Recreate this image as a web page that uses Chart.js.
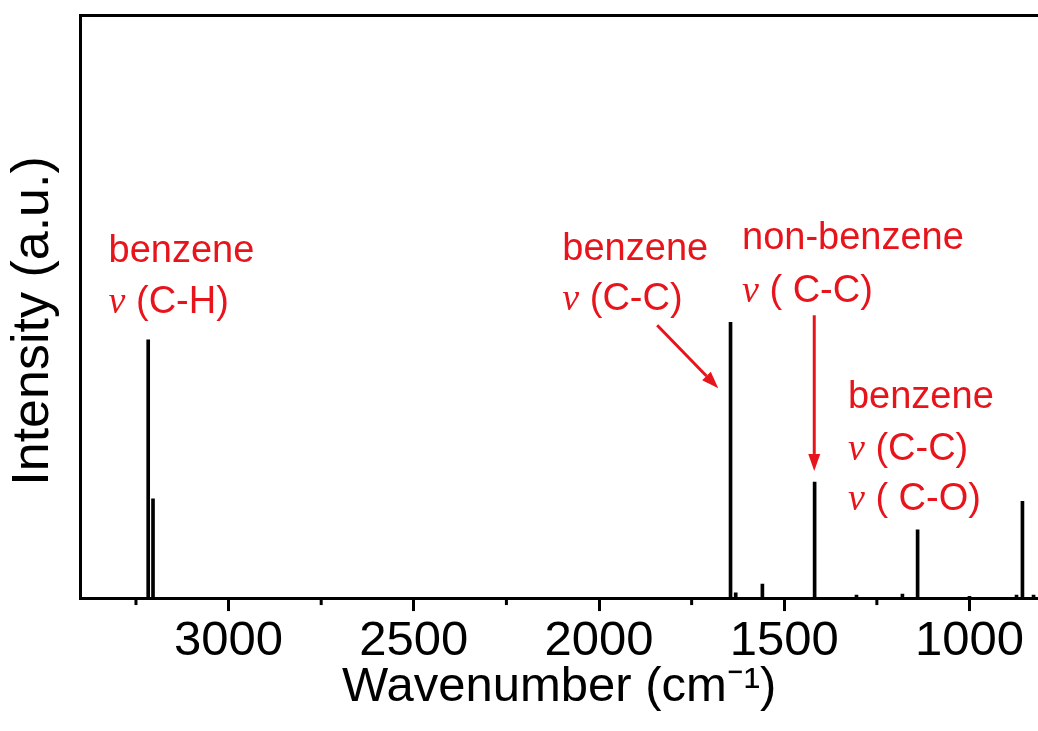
<!DOCTYPE html>
<html>
<head>
<meta charset="utf-8">
<title>IR spectrum</title>
<script src="https://cdn.jsdelivr.net/npm/chart.js@4.4.0/dist/chart.umd.min.js"></script>
<style>
    html, body { margin: 0; padding: 0; background: #fff; }
</style>
</head>
<body>
<canvas id="spectrumChart" width="1038" height="731"></canvas>
<script>
// Peak positions (cm-1) and intensities (a.u.)
const wavenumbers = [3217, 3204, 1645, 1631, 1559, 1418, 1305, 1181, 1140, 1000, 873, 857, 827];
const intensity   = [44.3, 17.0, 47.3, 0.9, 2.4, 19.9, 0.5, 0.7, 11.7, 0.3, 0.5, 16.6, 0.5];

// Axis ticks
const majorTicks = [1000, 1500, 2000, 2500, 3000];
const minorTicks = [1250, 1750, 2250, 2750, 3250];

const redInk = 'rgb(232, 20, 28)';
const sansFamily = "'Liberation Sans', Arial, sans-serif";
const serifFamily = "'Liberation Serif', 'Times New Roman', serif";

// Red peak assignments, anchored in data units
const notes = [
    { wn: 3324, y: 57.6, nu: false, text: 'benzene' },
    { wn: 3324, y: 48.9, nu: true,  text: ' (C-H)' },
    { wn: 2099, y: 58.0, nu: false, text: 'benzene' },
    { wn: 2099, y: 49.4, nu: true,  text: ' (C-C)' },
    { wn: 1614, y: 59.9, nu: false, text: 'non-benzene' },
    { wn: 1614, y: 50.8, nu: true,  text: ' ( C-C)' },
    { wn: 1328, y: 32.6, nu: false, text: 'benzene' },
    { wn: 1328, y: 23.7, nu: true,  text: ' (C-C)' },
    { wn: 1328, y: 15.1, nu: true,  text: ' ( C-O)' }
];
const arrows = [
    { from: [1843, 46.8], to: [1678, 36.0] },
    { from: [1419, 48.5], to: [1419, 21.8] }
];

// Short minor tick marks under the axis
const minorTickPlugin = {
    id: 'minorTicks',
    afterDraw(chart) {
        const { ctx, chartArea, scales } = chart;
        ctx.save();
        ctx.strokeStyle = '#000';
        ctx.lineWidth = 3;
        minorTicks.forEach(v => {
            const px = scales.x.getPixelForValue(v);
            ctx.beginPath();
            ctx.moveTo(px, chartArea.bottom);
            ctx.lineTo(px, chartArea.bottom + 7);
            ctx.stroke();
        });
        ctx.restore();
    }
};

// Annotation text and arrows
const notesPlugin = {
    id: 'notes',
    afterDraw(chart) {
        const { ctx, scales } = chart;
        ctx.save();
        ctx.fillStyle = redInk;
        ctx.strokeStyle = redInk;
        ctx.textBaseline = 'alphabetic';
        ctx.textAlign = 'left';
        notes.forEach(n => {
            let px = scales.x.getPixelForValue(n.wn);
            const py = scales.y.getPixelForValue(n.y);
            if (n.nu) {
                ctx.font = 'italic 38px ' + serifFamily;
                ctx.fillText('\u03BD', px, py);
                px += ctx.measureText('\u03BD').width;
            }
            ctx.font = '38px ' + sansFamily;
            ctx.fillText(n.text, px, py);
        });

        ctx.lineWidth = 3;
        arrows.forEach(a => {
            const x1 = scales.x.getPixelForValue(a.from[0]);
            const y1 = scales.y.getPixelForValue(a.from[1]);
            const x2 = scales.x.getPixelForValue(a.to[0]);
            const y2 = scales.y.getPixelForValue(a.to[1]);
            const ang = Math.atan2(y2 - y1, x2 - x1);
            const headLen = 17, headHalf = 6;
            const bx = x2 - headLen * Math.cos(ang);
            const by = y2 - headLen * Math.sin(ang);
            ctx.beginPath();
            ctx.moveTo(x1, y1);
            ctx.lineTo(bx, by);
            ctx.stroke();
            ctx.beginPath();
            ctx.moveTo(x2, y2);
            ctx.lineTo(bx + headHalf * Math.sin(ang), by - headHalf * Math.cos(ang));
            ctx.lineTo(bx - headHalf * Math.sin(ang), by + headHalf * Math.cos(ang));
            ctx.closePath();
            ctx.fill();
        });
        ctx.restore();
    }
};

Chart.defaults.font.family = sansFamily;
Chart.defaults.color = '#000';

const ctx = document.getElementById('spectrumChart').getContext('2d');
new Chart(ctx, {
    type: 'bar',
    data: {
        datasets: [{
            data: wavenumbers.map((wn, i) => ({ x: wn, y: intensity[i] })),
            backgroundColor: '#000',
            borderWidth: 0,
            barThickness: 3
        }]
    },
    options: {
        responsive: false,
        animation: false,
        layout: { padding: { top: 15, right: 0, bottom: 0, left: 0 } },
        scales: {
            x: {
                type: 'linear',
                position: 'bottom',
                reverse: true,
                min: 815,
                max: 3400,
                offset: false,
                afterBuildTicks: scale => {
                    scale.ticks = majorTicks.map(v => ({ value: v }));
                },
                ticks: {
                    font: { size: 49, lineHeight: 0.9 },
                    padding: 8,
                    maxRotation: 0,
                    autoSkip: false,
                    callback: v => String(v)
                },
                grid: {
                    display: true,
                    offset: false,
                    drawOnChartArea: false,
                    drawTicks: true,
                    tickLength: 13,
                    tickWidth: 3,
                    tickColor: '#000'
                },
                border: { display: true, width: 3, color: '#000' },
                title: {
                    display: true,
                    text: 'Wavenumber (cm\u207B\u00B9)',
                    font: { size: 49, lineHeight: 0.66 },
                    padding: { top: 0, bottom: 27.5 }
                }
            },
            xTop: {
                type: 'linear',
                position: 'top',
                display: true,
                min: 815,
                max: 3400,
                reverse: true,
                ticks: { display: false },
                grid: { display: false, drawTicks: false },
                border: { display: true, width: 3, color: '#000' }
            },
            y: {
                type: 'linear',
                min: 0,
                max: 100,
                ticks: { display: false },
                grid: { display: false, drawTicks: false },
                border: { display: true, width: 3, color: '#000' },
                title: {
                    display: true,
                    text: 'Intensity (a.u.)  ',
                    font: { size: 52, lineHeight: 1.2 },
                    padding: { top: 2, bottom: 16 }
                }
            }
        },
        plugins: {
            legend: { display: false },
            tooltip: { enabled: false }
        }
    },
    plugins: [minorTickPlugin, notesPlugin]
});
</script>
</body>
</html>
